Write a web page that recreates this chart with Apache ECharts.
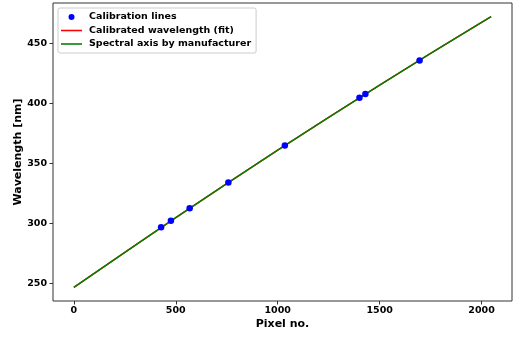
<!DOCTYPE html>
<html>
<head>
<meta charset="utf-8">
<script src="https://cdn.jsdelivr.net/npm/echarts@6/dist/echarts.min.js"></script>
<style>html,body{margin:0;padding:0;background:#fff}#c{width:514px;height:337px}</style>
</head>
<body>
<div id="c"></div>
<script>
// Calibration lines (Hg): pixel positions and wavelengths
var calPixels = [428, 476, 568, 758, 1035, 1401, 1430, 1696];
var calWl = [296.73, 302.15, 312.57, 334.15, 365.02, 404.66, 407.78, 435.83];
// Fitted curve and manufacturer spectral axis
var curvePixels = [0, 250, 500, 750, 1000, 1250, 1500, 1750, 2000, 2047];
var fitWl = [246.6, 275.9, 304.8, 333.2, 361.0, 388.4, 415.3, 441.7, 467.6, 472.4];
var manufWl = [246.6, 275.9, 304.8, 333.2, 361.0, 388.4, 415.3, 441.7, 467.6, 472.4];
var xTicks = [0, 500, 1000, 1500, 2000];
var yTicks = [250, 300, 350, 400, 450];

function pairs(xs, ys) { return xs.map(function (x, i) { return [x, ys[i]]; }); }
function plain(v) { return String(v); }

var FONT = 'DejaVu Sans';
var LINE_ICON = 'path://M0,0H40V3H0Z';
var chart = echarts.init(document.getElementById('c'));
chart.setOption({
  animation: false,
  backgroundColor: '#fff',
  grid: { left: 53, right: 2, top: 3, bottom: 36, show: true, borderColor: '#333', borderWidth: 1, backgroundColor: 'transparent' },
  legend: {
    left: 58, top: 8, orient: 'vertical',
    padding: [3, 5, 3, 3],
    itemWidth: 21, itemHeight: 6, itemGap: 1.5,
    symbolKeepAspect: true,
    borderColor: '#cccccc', borderWidth: 1, borderRadius: 2,
    backgroundColor: 'rgba(255,255,255,0.8)',
    textStyle: { fontFamily: FONT, fontWeight: 'bold', fontSize: 9.5, color: '#000', lineHeight: 12, padding: [0, 0, 0, 2] },
    data: [
      { name: 'Calibration lines', icon: 'circle' },
      { name: 'Calibrated wavelength (fit)', icon: LINE_ICON },
      { name: 'Spectral axis by manufacturer', icon: LINE_ICON }
    ]
  },
  xAxis: {
    type: 'value', min: -102.35, max: 2149.35,
    name: 'Pixel no.', nameLocation: 'middle', nameGap: 18, nameMoveOverlap: false,
    nameTextStyle: { fontFamily: FONT, fontWeight: 'bold', fontSize: 11, color: '#000' },
    axisLine: { show: false, onZero: false },
    axisTick: { show: true, length: 3.5, inside: false, customValues: xTicks, lineStyle: { color: '#333' } },
    axisLabel: { customValues: xTicks, formatter: plain, margin: 5, fontFamily: FONT, fontWeight: 'bold', fontSize: 9.5, color: '#000' },
    splitLine: { show: false }
  },
  yAxis: {
    type: 'value', min: 235.3, max: 483.7,
    name: 'Wavelength [nm]', nameLocation: 'middle', nameGap: 29, nameMoveOverlap: false,
    nameTextStyle: { fontFamily: FONT, fontWeight: 'bold', fontSize: 11, color: '#000' },
    axisLine: { show: false, onZero: false },
    axisTick: { show: true, length: 3.5, inside: false, customValues: yTicks, lineStyle: { color: '#333' } },
    axisLabel: { customValues: yTicks, formatter: plain, margin: 6, fontFamily: FONT, fontWeight: 'bold', fontSize: 9.5, color: '#000' },
    splitLine: { show: false }
  },
  series: [
    {
      name: 'Calibration lines', type: 'scatter', data: pairs(calPixels, calWl),
      symbol: 'circle', symbolSize: 6.5, itemStyle: { color: '#0000ff', opacity: 1 }, z: 5
    },
    {
      name: 'Calibrated wavelength (fit)', type: 'line', data: pairs(curvePixels, fitWl),
      symbol: 'none', smooth: false, lineStyle: { color: '#ff0000', width: 1.5 }, itemStyle: { color: '#ff0000' }, z: 3
    },
    {
      name: 'Spectral axis by manufacturer', type: 'line', data: pairs(curvePixels, manufWl),
      symbol: 'none', smooth: false, lineStyle: { color: '#008000', width: 1.5 }, itemStyle: { color: '#008000' }, z: 4
    }
  ]
});
</script>
</body>
</html>
